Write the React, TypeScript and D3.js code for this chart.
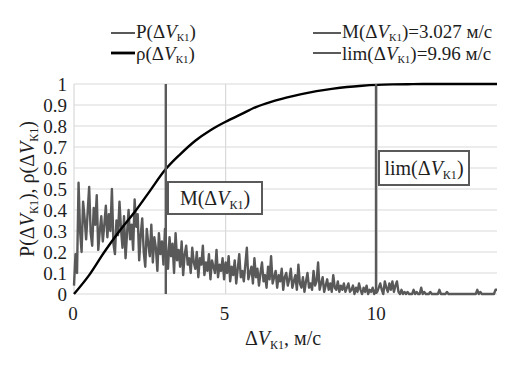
import React from 'react';
import * as d3 from 'd3';

// P(ΔV) sampled every 0.05 m/s from 0 to 13.95
const pStep = 0.05;
const pValues = [
    0.04, 0.19, 0.10, 0.53, 0.30, 0.20, 0.44, 0.36, 0.26, 0.39, 0.51, 0.29, 0.23, 0.41, 0.33, 0.47, 0.21, 0.30, 0.37, 0.25,
    0.33, 0.42, 0.27, 0.38, 0.30, 0.50, 0.24, 0.19, 0.35, 0.28, 0.44, 0.31, 0.22, 0.37, 0.17, 0.29, 0.40, 0.26, 0.33, 0.21,
    0.45, 0.32, 0.38, 0.16, 0.28, 0.36, 0.20, 0.13, 0.31, 0.24, 0.18, 0.33, 0.15, 0.27, 0.22, 0.11, 0.29, 0.19, 0.25, 0.14,
    0.31, 0.20, 0.12, 0.27, 0.18, 0.24, 0.10, 0.29, 0.16, 0.21, 0.13, 0.25, 0.09, 0.19, 0.23, 0.14, 0.17, 0.10, 0.22, 0.15,
    0.12, 0.20, 0.08, 0.17, 0.14, 0.23, 0.09, 0.15, 0.11, 0.19, 0.07, 0.16, 0.13, 0.10, 0.21, 0.08, 0.14, 0.11, 0.17, 0.07,
    0.15, 0.10, 0.18, 0.06, 0.13, 0.09, 0.16, 0.05, 0.12, 0.19, 0.08, 0.11, 0.06, 0.14, 0.22, 0.07, 0.10, 0.13, 0.05, 0.17,
    0.08, 0.12, 0.04, 0.10, 0.15, 0.06, 0.09, 0.03, 0.13, 0.07, 0.18, 0.05, 0.08, 0.11, 0.03, 0.09, 0.06, 0.12, 0.02, 0.08,
    0.10, 0.04, 0.07, 0.12, 0.03, 0.06, 0.09, 0.02, 0.14, 0.05, 0.03, 0.08, 0.01, 0.06, 0.10, 0.03, 0.05, 0.02, 0.11, 0.04,
    0.06, 0.15, 0.02, 0.05, 0.08, 0.01, 0.04, 0.07, 0.02, 0.05, 0.01, 0.09, 0.03, 0.02, 0.06, 0.01, 0.04, 0.02, 0.05, 0.01,
    0.03, 0.05, 0.01, 0.02, 0.04, 0.00, 0.03, 0.01, 0.05, 0.02, 0.00, 0.03, 0.01, 0.04, 0.00, 0.02, 0.01, 0.03, 0.00, 0.02,
    0.01, 0.03, 0.05, 0.02, 0.00, 0.06, 0.03, 0.01, 0.05, 0.02, 0.06, 0.01, 0.04, 0.06, 0.01, 0.00, 0.02, 0.00, 0.01, 0.00,
    0.01, 0.00, 0.00, 0.00, 0.02, 0.00, 0.01, 0.00, 0.00, 0.03, 0.00, 0.01, 0.00, 0.00, 0.00, 0.01, 0.00, 0.00, 0.00, 0.00,
    0.00, 0.02, 0.00, 0.00, 0.00, 0.00, 0.01, 0.00, 0.00, 0.00, 0.00, 0.00, 0.00, 0.00, 0.00, 0.00, 0.00, 0.00, 0.00, 0.00,
    0.00, 0.00, 0.00, 0.00, 0.00, 0.00, 0.02, 0.00, 0.01, 0.00, 0.00, 0.00, 0.00, 0.00, 0.00, 0.00, 0.00, 0.00, 0.02, 0.02,
];

// ρ(ΔV) cumulative curve
const rhoX = [0, 0.5, 1, 1.5, 2, 2.5, 3, 3.5, 4, 4.5, 5, 5.5, 6, 6.5, 7, 7.5, 8, 8.5, 9, 9.5, 10, 10.5, 11, 11.5, 12, 13, 13.95];
const rhoY = [0, 0.09, 0.2, 0.3, 0.39, 0.49, 0.59, 0.665, 0.73, 0.78, 0.82, 0.855, 0.89, 0.915, 0.935, 0.952, 0.966, 0.977, 0.986, 0.992, 0.996, 0.998, 0.999, 1, 1, 1, 1];

const meanV = 3.027;
const limV = 9.96;

const xTicks = [0, 5, 10];
const yTicks = [0, 0.1, 0.2, 0.3, 0.4, 0.5, 0.6, 0.7, 0.8, 0.9, 1];

const W = 527;
const H = 369;
const FONT = 'Liberation Serif, DejaVu Serif, serif';

// "(ΔV_К1)" with italic V and small subscript
const DV = ({ sub = 12, shift = 4 }: { sub?: number; shift?: number }) => (
    <>
        <tspan>(Δ</tspan>
        <tspan fontStyle="italic">V</tspan>
        <tspan fontSize={sub} dy={shift}>К1</tspan>
        <tspan dy={-shift}>)</tspan>
    </>
);

const App = () => {
    const x = d3.scaleLinear().domain([0, 13.95]).range([74, 497]);
    const y = d3.scaleLinear().domain([0, 1]).range([294, 84]);

    const pLine = d3.line<number>()
        .x((_, i) => x(i * pStep))
        .y(d => y(d));

    const rhoLine = d3.line<number>()
        .x((_, i) => x(rhoX[i]))
        .y(d => y(d))
        .curve(d3.curveMonotoneX);

    const grid = '#d9d9d9';
    const gray = '#5a5a5a';
    const ink = '#1e1e1e';

    return (
        <svg width={W} height={H} style={{ position: 'fixed', left: 0, top: 0, background: '#fff', fontFamily: FONT }}>
            {/* grid */}
            {yTicks.map(t => (
                <line key={'gy' + t} x1={x(0)} x2={x.range()[1]} y1={y(t)} y2={y(t)} stroke={grid} strokeWidth={1.2} />
            ))}
            {xTicks.map(t => (
                <line key={'gx' + t} x1={x(t)} x2={x(t)} y1={y(0)} y2={y(1)} stroke={grid} strokeWidth={1.2} />
            ))}

            {/* series */}
            <path d={pLine(pValues) || ''} fill="none" stroke="#595959" strokeWidth={2.4} strokeLinejoin="round" />
            <path d={rhoLine(rhoY) || ''} fill="none" stroke="#000" strokeWidth={2.4} />

            {/* mean & limit lines */}
            <line x1={x(meanV)} x2={x(meanV)} y1={y(0)} y2={y(1)} stroke={gray} strokeWidth={2.4} />
            <line x1={x(limV)} x2={x(limV)} y1={y(0)} y2={y(1)} stroke={gray} strokeWidth={2.4} />

            {/* annotation boxes */}
            <rect x={168} y={182} width={94} height={32} fill="#fff" stroke={gray} strokeWidth={2} />
            <text x={215} y={205} fontSize={20} textAnchor="middle" fill={ink}>M<DV /></text>
            <rect x={379} y={151} width={90} height={34} fill="#fff" stroke={gray} strokeWidth={2} />
            <text x={424} y={175} fontSize={20} textAnchor="middle" fill={ink}>lim<DV /></text>

            {/* axes labels */}
            {yTicks.map(t => (
                <text key={'ty' + t} x={67} y={y(t) + 6.5} fontSize={19} textAnchor="end" fill={ink}>
                    {d3.format('~g')(t)}
                </text>
            ))}
            {xTicks.map(t => (
                <text key={'tx' + t} x={x(t) - 1} y={320} fontSize={19} textAnchor="middle" fill={ink}>{t}</text>
            ))}
            <text x={283} y={345} fontSize={20} textAnchor="middle" fill={ink}>
                Δ<tspan fontStyle="italic">V</tspan><tspan fontSize={12} dy={4}>К1</tspan><tspan dy={-4}>, м/с</tspan>
            </text>
            <text transform="translate(34,189) rotate(-90)" fontSize={20} textAnchor="middle" fill={ink}>
                P<DV />, ρ<DV />
            </text>

            {/* legend */}
            <line x1={111} x2={135} y1={33} y2={33} stroke="#595959" strokeWidth={2} />
            <text x={136} y={38} fontSize={19} fill={ink}>P<DV sub={11} shift={3} /></text>
            <line x1={111} x2={135} y1={53} y2={53} stroke="#000" strokeWidth={2.8} />
            <text x={136} y={60} fontSize={19} fill={ink}>ρ<DV sub={11} shift={3} /></text>
            <line x1={313} x2={341} y1={33} y2={33} stroke={gray} strokeWidth={2} />
            <text x={342} y={38} fontSize={19} fill={ink}>M<DV sub={11} shift={3} />=3.027 м/с</text>
            <line x1={313} x2={341} y1={53} y2={53} stroke={gray} strokeWidth={2} />
            <text x={342} y={60} fontSize={19} fill={ink}>lim<DV sub={11} shift={3} />=9.96 м/с</text>
        </svg>
    );
};

export default App;
